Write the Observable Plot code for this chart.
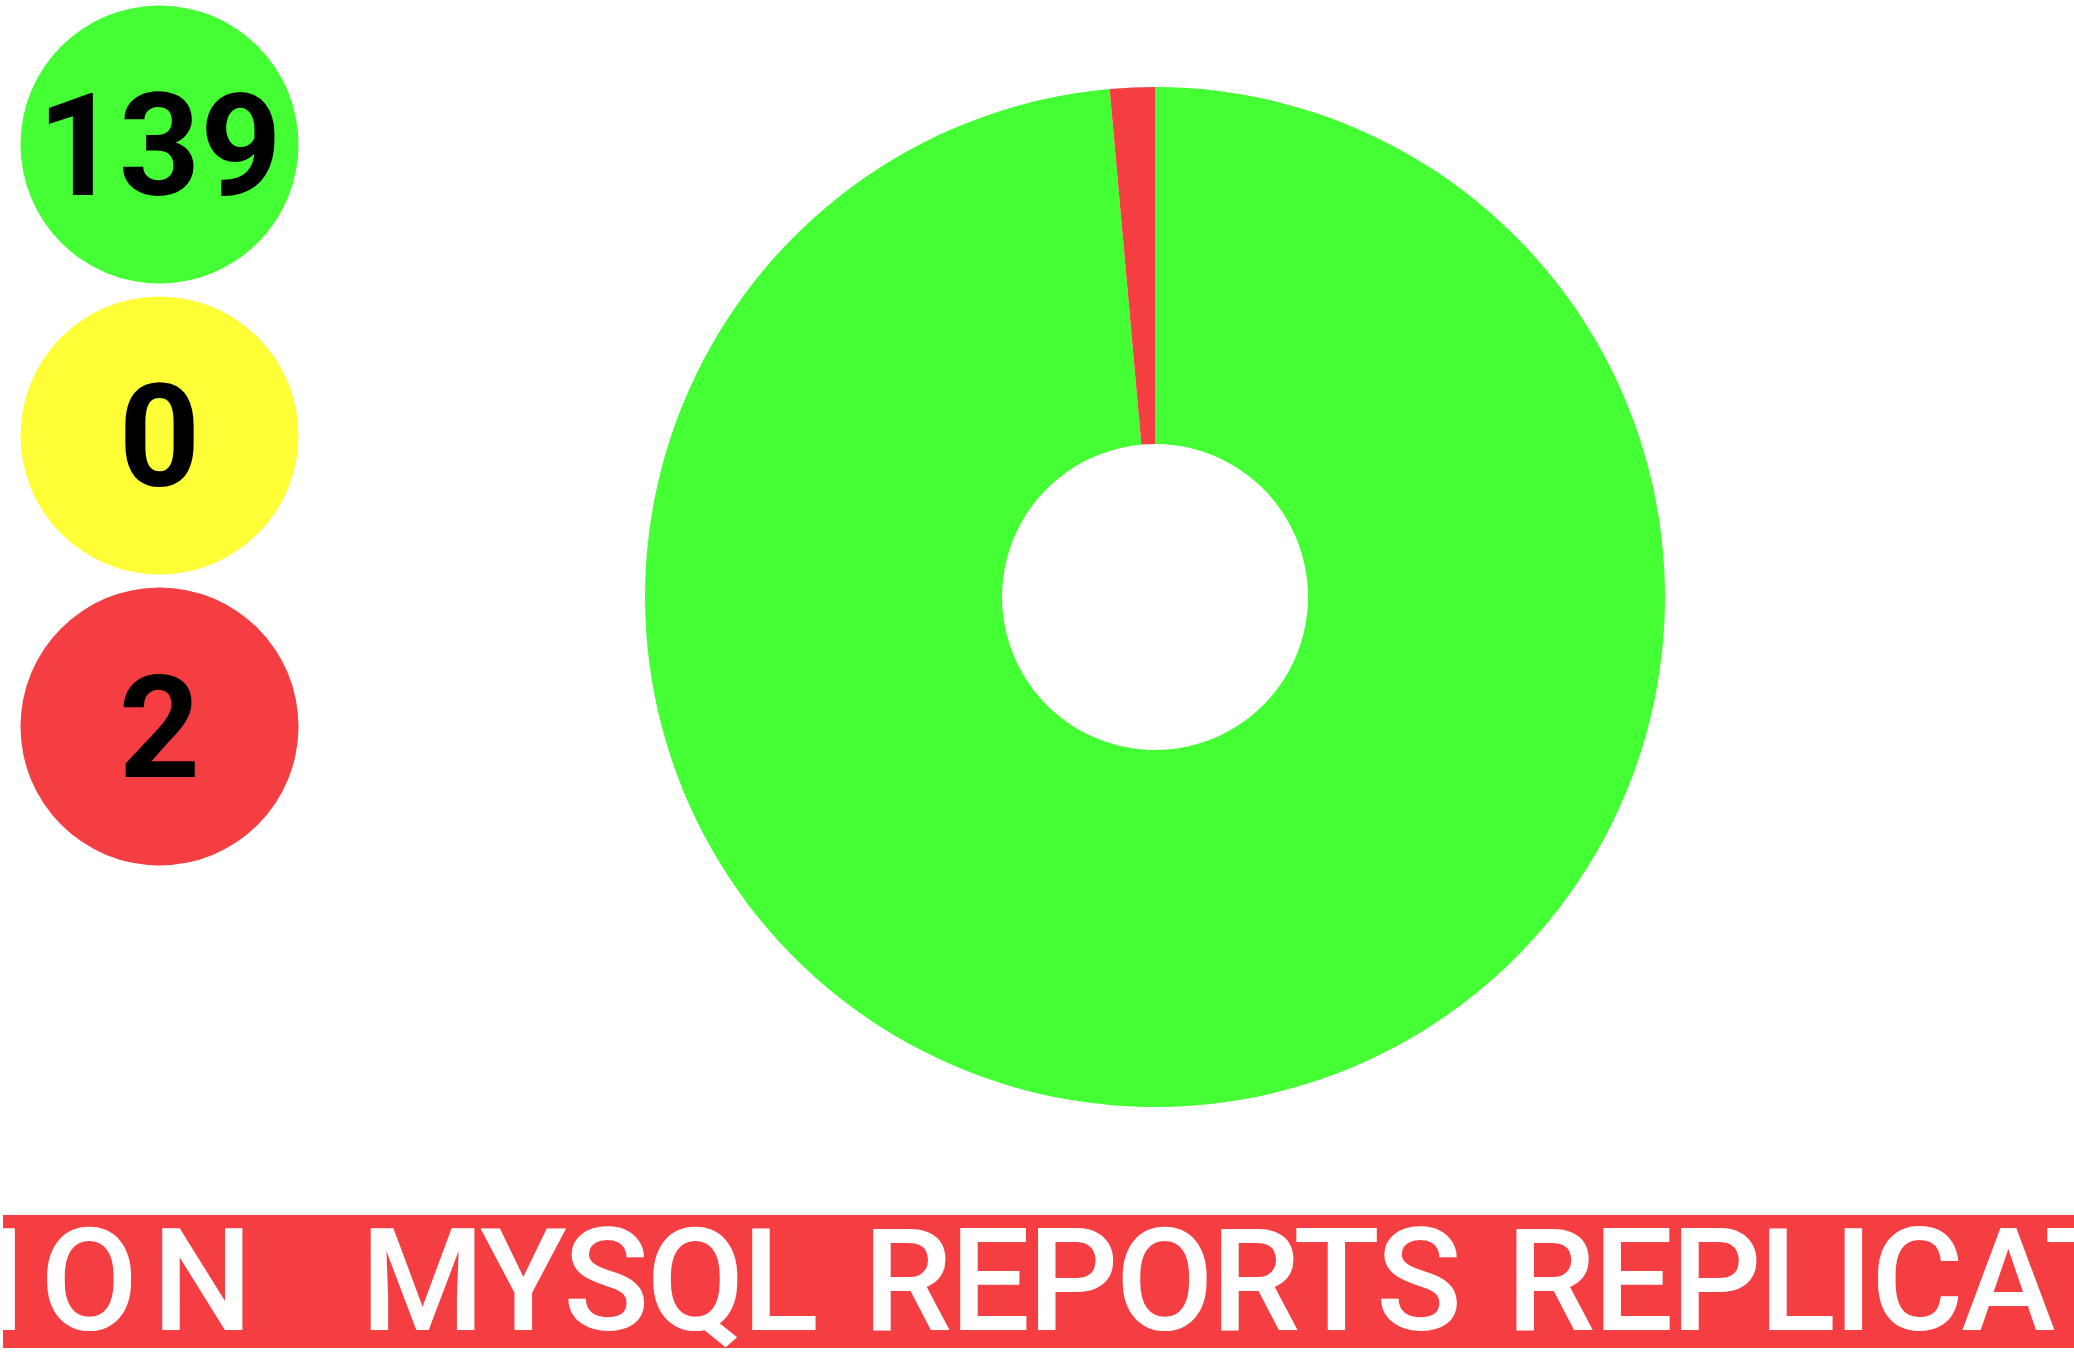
<!DOCTYPE html>
<html>
<head>
<meta charset="utf-8">
<script src="https://cdn.jsdelivr.net/npm/d3@7"></script>
<script src="https://cdn.jsdelivr.net/npm/@observablehq/plot@0.6"></script>
<style>
  html, body { margin: 0; padding: 0; background: #fff; width: 2074px; height: 1352px; overflow: hidden; }
  #chart svg { display: block; }
  #banner { position: absolute; left: 3px; top: 1215px; width: 2071px; height: 133px; background: #f53e42; overflow: hidden; }
  #ticker { position: absolute; top: 0; left: 0; line-height: 133px; font-family: Roboto, sans-serif; font-weight: 500;
            font-size: 142px; color: #fff; white-space: pre; letter-spacing: -2.5px; word-spacing: 14px; }
  #ticker .wide { letter-spacing: 14px; }
</style>
</head>
<body>
<div id="chart"></div>
<div id="banner"><span id="ticker"><span id="pre">REPLICAT</span><span class="wide">ION</span>  MYSQL REPORTS REPLICATION   MYSQL REPORTS</span></div>
<script>
// ---- data ----
const statuses = ["OK", "WARNING", "CRITICAL"];
const counts = [139, 0, 2];
const statusColors = ["#44ff33", "#ffff38", "#f53e42"];

const data = statuses.map((s, i) => ({status: s, count: counts[i]}));

// donut geometry (layout)
const donutCx = 1155, donutCy = 597, donutOuter = 510, donutInner = 153;

function donut(index, scales) {
  const pie = d3.pie().sort(null).value(d => d.count);
  const arc = d3.arc().innerRadius(donutInner).outerRadius(donutOuter);
  const g = d3.create("svg:g").attr("transform", `translate(${donutCx},${donutCy})`);
  g.selectAll("path")
    .data(pie(data))
    .join("path")
    .attr("d", arc)
    .attr("fill", d => scales.color(d.data.status));
  return g.node();
}

const chart = Plot.plot({
  width: 2074,
  height: 1200,
  margin: 0,
  x: {type: "point", domain: ["tally"], range: [159, 159], padding: 0, axis: null},
  y: {type: "point", domain: statuses, range: [143, 726], padding: 0, axis: null},
  color: {domain: statuses, range: statusColors},
  marks: [
    Plot.dot(data, {x: () => "tally", y: "status", r: 139, fill: "status", stroke: null}),
    Plot.text(data, {x: () => "tally", y: "status", text: d => String(d.count), fill: "black",
      fontSize: 142, fontWeight: 700, fontFamily: "Roboto", dy: 5}),
    donut
  ]
});
document.getElementById("chart").appendChild(chart);

// ticker offset so that the scrolled text shows "...ION  MYSQL REPORTS REPLICAT..."
const pre = document.getElementById("pre");
const w = pre.getBoundingClientRect().width;
document.getElementById("ticker").style.left = (-w - 17) + "px";
</script>
</body>
</html>
